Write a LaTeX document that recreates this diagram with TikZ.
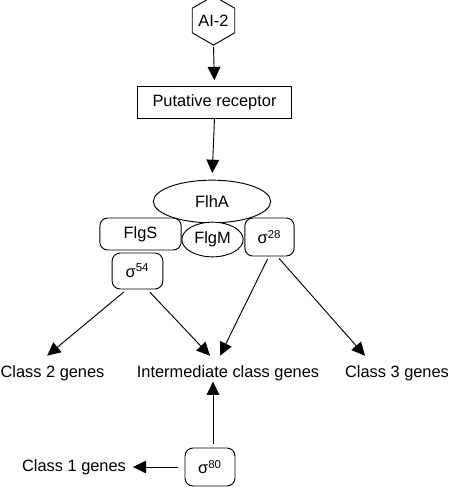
\documentclass[tikz,border=0pt]{standalone}
\usepackage{fontspec}
\setmainfont{Liberation Sans}
\usepackage{tikz}
\usetikzlibrary{arrows.meta}
\usetikzlibrary{positioning}
\usetikzlibrary{shapes.geometric}

\begin{document}
\begin{tikzpicture}[
        x=0.75pt, y=-0.75pt,
        font=\fontsize{12.3}{14}\selectfont,
        box/.style={draw, fill=white, line width=0.7pt, inner sep=0pt},
        rbox/.style={box, rounded corners=6pt},
        blob/.style={box, ellipse},
        gene/.style={inner sep=2pt},
        arrow/.style={-{Triangle[length=10pt,width=9.5pt]}, line width=0.7pt, black},
    ]
    \useasboundingbox (0,0) rectangle (450,487);
    \node[box, regular polygon, regular polygon sides=6, regular polygon rotate=30, minimum size=31pt] (ai) at (213.5,20.5) {AI-2};
    \node[box, minimum width=116pt, minimum height=24pt] (rec) at (214.5,102) {Putative receptor};
    \node[blob, minimum width=88pt, minimum height=32pt] (flha) at (212,201.5) {FlhA};
    \node[rbox, minimum width=61pt, minimum height=24pt] (flgs) at (140.5,234) {FlgS};
    \node[blob, minimum width=46pt, minimum height=26pt] (flgm) at (212.5,239.5) {FlgM};
    \node[rbox, minimum width=37pt, minimum height=28.5pt] (s28) at (269.5,237) {σ\textsuperscript{28}};
    \node[rbox, minimum width=38pt, minimum height=27pt] (s54) at (137.5,271) {σ\textsuperscript{54}};
    \node[rbox, minimum width=37.5pt, minimum height=28.5pt] (s80) at (210,467) {σ\textsuperscript{80}};
    \node[gene] (c2) at (52.5,373) {Class 2 genes};
    \node[gene] (mid) at (228,373) {Intermediate class genes};
    \node[gene] (c3) at (397,373) {Class 3 genes};
    \node[gene] (c1) at (74,467) {Class 1 genes};
    % signal path
    \draw[arrow, shorten <=1pt, shorten >=4pt] (ai.south) -- (rec.north);
    \draw[arrow, shorten >=5pt] (rec.south) -- (flha.north);
    % sigma factors to gene classes
    \draw[arrow, shorten <=3pt] (s54.240) -- ([xshift=-4pt, yshift=5pt]c2.north);
    \draw[arrow, shorten <=3pt] (s54.298) -- ([xshift=-13.5pt, yshift=5pt]mid.north);
    \draw[arrow, shorten <=2pt] (s28.268) -- ([xshift=-6pt, yshift=5pt]mid.north);
    \draw[arrow, shorten <=2pt] (s28.292) -- ([xshift=-24pt, yshift=5pt]c3.north);
    \draw[arrow, shorten <=3pt] ([xshift=2.25pt]s80.north) -- ([xshift=-11.25pt, yshift=1.5pt]mid.south);
    \draw[arrow, shorten <=5pt, shorten >=3pt] (s80.west) -- (c1.east);
\end{tikzpicture}
\end{document}
